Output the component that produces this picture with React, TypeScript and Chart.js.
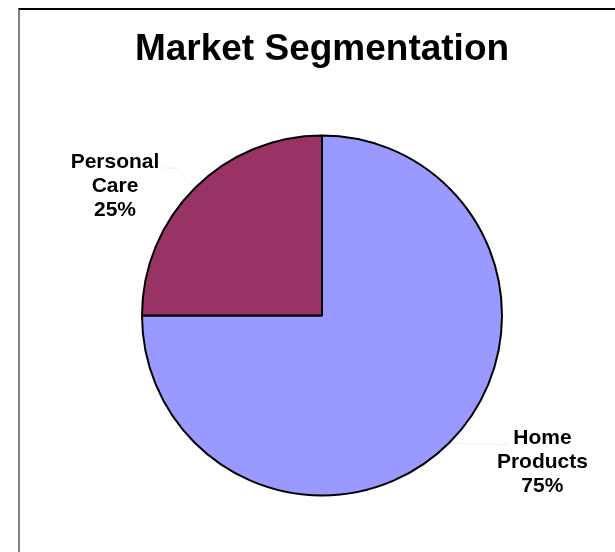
import React, { useEffect, useRef } from "react";
import { Chart, registerables } from "chart.js";

Chart.register(...registerables);

const titleText = "Market Segmentation";
const categories = ["Home Products", "Personal Care"];
const labelLines = [["Home", "Products"], ["Personal", "Care"]];
const values = [75, 25];
const sliceColors = ["#9999FF", "#993366"];

const sliceLabelPlugin = {
  id: "sliceLabels",
  afterDatasetsDraw(chart: any, _args: any, opts: any) {
    const meta = chart.getDatasetMeta(0);
    const ctx = chart.ctx as CanvasRenderingContext2D;
    const data = chart.data.datasets[0].data as number[];
    const total = data.reduce((a, b) => a + b, 0);
    meta.data.forEach((arc: any, i: number) => {
      const { x, y, startAngle, endAngle, outerRadius } = arc.getProps(
        ["x", "y", "startAngle", "endAngle", "outerRadius"],
        true
      );
      const mid = (startAngle + endAngle) / 2;
      const ex = x + Math.cos(mid) * (outerRadius + 1);
      const ey = y + Math.sin(mid) * (outerRadius + 1);
      const cfg = opts.items[i];
      ctx.save();
      ctx.strokeStyle = opts.leaderColor;
      ctx.lineWidth = 1;
      ctx.beginPath();
      ctx.moveTo(ex, ey);
      cfg.leader.forEach(([dx, dy]: number[]) => ctx.lineTo(ex + dx, ey + dy));
      ctx.stroke();
      const lines = [...labelLines[i], Math.round((data[i] / total) * 100) + "%"];
      ctx.font = opts.font;
      ctx.fillStyle = "#000000";
      ctx.textAlign = "center";
      ctx.textBaseline = "middle";
      const cx = ex + cfg.dx;
      const cy = ey + cfg.dy;
      lines.forEach((ln, k) =>
        ctx.fillText(ln, cx, cy + (k - (lines.length - 1) / 2) * opts.lineHeight)
      );
      ctx.restore();
    });
  },
};

export default function App() {
  const canvasRef = useRef<HTMLCanvasElement | null>(null);

  useEffect(() => {
    if (!canvasRef.current) return;
    const chart = new Chart(canvasRef.current, {
      type: "pie",
      data: {
        labels: categories,
        datasets: [
          {
            data: values,
            backgroundColor: sliceColors,
            borderColor: "#000000",
            borderWidth: 2,
            hoverOffset: 0,
          },
        ],
      },
      options: {
        responsive: false,
        animation: false,
        radius: 180,
        layout: { padding: { left: 60, right: 51, top: 0, bottom: 3.4 } },
        plugins: {
          legend: { display: false },
          tooltip: { enabled: false },
          title: {
            display: true,
            text: titleText,
            color: "#000000",
            font: { family: "'Liberation Sans', Arial, sans-serif", size: 37, weight: "bold", lineHeight: 1.2 },
            padding: { top: 18, bottom: 10 },
          },
          sliceLabels: {
            font: "bold 21px 'Liberation Sans', Arial, sans-serif",
            lineHeight: 24,
            leaderColor: "#eeeeee",
            items: [
              { dx: 92.4, dy: 18.7, leader: [[57, 1]] },
              { dx: -79, dy: -1, leader: [[-19, -19.5], [-31, -19.5]] },
            ],
          },
        } as any,
      },
      plugins: [sliceLabelPlugin],
    });
    return () => chart.destroy();
  }, []);

  return (
    <div
      style={{
        position: "fixed",
        left: 18,
        top: 8,
        width: 597,
        height: 544,
        boxSizing: "border-box",
        borderTop: "2px solid #000000",
        borderLeft: "2px solid #808080",
        background: "#ffffff",
      }}
    >
      <canvas ref={canvasRef} width={595} height={542} style={{ display: "block" }} />
    </div>
  );
}
